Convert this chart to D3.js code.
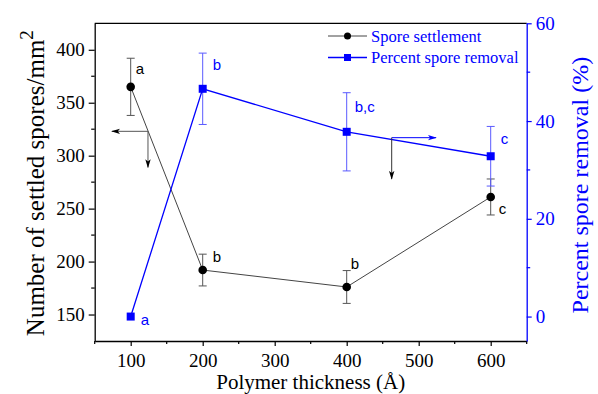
<!DOCTYPE html>
<html>
<head>
<meta charset="utf-8">
<script src="https://cdn.jsdelivr.net/npm/d3@7"></script>
<style>
  html, body { margin: 0; padding: 0; background: #fff; }
  svg { display: block; }
  .serif { font-family: "Liberation Serif", "Times New Roman", serif; }
  .sans { font-family: "Liberation Sans", Arial, sans-serif; }
</style>
</head>
<body>
<svg id="chart" width="598" height="394"></svg>
<script>
// Polymer thickness (Å)
const thickness = [100, 200, 400, 600];

// Spore settlement (spores/mm²) with error
const settlement = [365, 192, 176, 261];
const settlementErr = [27, 15, 15.5, 17];
const settlementLetters = ["a", "b", "b", "c"];

// Percent spore removal (%) with error
const removal = [0, 46.6, 37.8, 32.8];
const removalErr = [0, 7.3, 8, 6.1];
const removalLetters = ["a", "b", "b,c", "c"];

const xTicks = [100, 200, 300, 400, 500, 600];
const yLeftTicks = [150, 200, 250, 300, 350, 400];
const yRightTicks = [0, 20, 40, 60];

const legendLabels = ["Spore settlement", "Percent spore removal"];

const BLUE = "#0000ff";
const GRAY = "#444";

const svg = d3.select("#chart");
const L = 94.7, R = 526.7, T = 23.3, B = 341;

const x = d3.scaleLinear().domain([50, 650]).range([L, R]);
const yL = d3.scaleLinear().domain([125, 425]).range([B, T]);
const yR = d3.scaleLinear().domain([-5, 60]).range([B, T]);

// arrow heads
const defs = svg.append("defs");
function arrowMarker(id, color) {
  defs.append("marker")
    .attr("id", id).attr("viewBox", "0 0 10 10")
    .attr("refX", 9).attr("refY", 5)
    .attr("markerWidth", 9).attr("markerHeight", 9)
    .attr("markerUnits", "userSpaceOnUse")
    .attr("orient", "auto")
    .append("path").attr("d", "M0,2 L10,5 L0,8 L2.5,5 Z").attr("fill", color);
}
arrowMarker("ahBlack", "#000");
arrowMarker("ahBlue", BLUE);

// frame top line
svg.append("line").attr("x1", L).attr("x2", R).attr("y1", T).attr("y2", T)
  .attr("stroke", "#000").attr("stroke-width", 1.3);

function styleTicks(g, color) {
  g.attr("font-family", null).attr("font-size", null);
  g.selectAll("text").attr("class", "serif").style("font-size", "19px").attr("fill", color);
}

// bottom axis
const xAxis = d3.axisBottom(x).tickValues(xTicks).tickSize(5).tickSizeOuter(0).tickPadding(8);
const gx = svg.append("g").attr("transform", `translate(0,${B})`).call(xAxis);
gx.select(".domain").attr("stroke", "#000").attr("stroke-width", 1.3);
gx.selectAll(".tick line").attr("stroke", "#000").attr("stroke-width", 1.2);
styleTicks(gx, "#000");
gx.selectAll(".minor").data(d3.range(50, 651, 100)).enter().append("line")
  .attr("x1", d => x(d)).attr("x2", d => x(d)).attr("y1", 0).attr("y2", 3)
  .attr("stroke", "#000").attr("stroke-width", 1.2);

// left axis
const yLAxis = d3.axisLeft(yL).tickValues(yLeftTicks).tickSize(6).tickSizeOuter(0).tickPadding(4);
const gyl = svg.append("g").attr("transform", `translate(${L},0)`).call(yLAxis);
gyl.select(".domain").attr("stroke", "#000").attr("stroke-width", 1.3);
gyl.selectAll(".tick line").attr("stroke", "#000").attr("stroke-width", 1.2);
styleTicks(gyl, "#000");
gyl.selectAll(".minor").data(d3.range(175, 425, 50)).enter().append("line")
  .attr("x1", 0).attr("x2", -3.5).attr("y1", d => yL(d)).attr("y2", d => yL(d))
  .attr("stroke", "#000").attr("stroke-width", 1.2);

// right axis
const yRAxis = d3.axisRight(yR).tickValues(yRightTicks).tickSize(5).tickSizeOuter(0).tickPadding(4);
const gyr = svg.append("g").attr("transform", `translate(${R},0)`).call(yRAxis);
gyr.select(".domain").attr("stroke", BLUE).attr("stroke-width", 1.3);
gyr.selectAll(".tick line").attr("stroke", BLUE).attr("stroke-width", 1.2);
styleTicks(gyr, BLUE);
gyr.selectAll(".minor").data([10, 30, 50]).enter().append("line")
  .attr("x1", 0).attr("x2", 3.5).attr("y1", d => yR(d)).attr("y2", d => yR(d))
  .attr("stroke", BLUE).attr("stroke-width", 1.2);

// axis titles
svg.append("text").attr("class", "serif").attr("x", x(350)).attr("y", 389).attr("text-anchor", "middle")
  .style("font-size", "21px").attr("fill", "#000")
  .text("Polymer thickness (Å)");

const lt = svg.append("text").attr("class", "serif")
  .attr("transform", `translate(44,${(T + B) / 2 + 1}) rotate(-90)`)
  .attr("text-anchor", "middle").style("font-size", "25px").attr("fill", "#000");
lt.append("tspan").text("Number of settled spores/mm");
lt.append("tspan").attr("dy", -11).style("font-size", "19px").text("2");

svg.append("text").attr("class", "serif")
  .attr("transform", `translate(588,${(T + B) / 2 + 3}) rotate(-90)`)
  .attr("text-anchor", "middle").style("font-size", "24px").attr("fill", BLUE)
  .text("Percent spore removal (%)");

// error bars
function errorBars(vals, errs, scale, color) {
  const g = svg.append("g").attr("stroke", color).attr("stroke-width", 1);
  thickness.forEach((t, i) => {
    if (!errs[i]) return;
    const cx = x(t), y1 = scale(vals[i] - errs[i]), y2 = scale(vals[i] + errs[i]);
    g.append("line").attr("x1", cx).attr("x2", cx).attr("y1", y1).attr("y2", y2);
    g.append("line").attr("x1", cx - 4).attr("x2", cx + 4).attr("y1", y1).attr("y2", y1);
    g.append("line").attr("x1", cx - 4).attr("x2", cx + 4).attr("y1", y2).attr("y2", y2);
  });
}
errorBars(settlement, settlementErr, yL, "#555");
errorBars(removal, removalErr, yR, "#5a5aff");

// lines
svg.append("path").datum(thickness.map((t, i) => [t, settlement[i]]))
  .attr("d", d3.line().x(d => x(d[0])).y(d => yL(d[1])))
  .attr("fill", "none").attr("stroke", GRAY).attr("stroke-width", 1);
svg.append("path").datum(thickness.map((t, i) => [t, removal[i]]))
  .attr("d", d3.line().x(d => x(d[0])).y(d => yR(d[1])))
  .attr("fill", "none").attr("stroke", BLUE).attr("stroke-width", 1.3);

// markers
svg.selectAll(".dot").data(thickness).enter().append("circle")
  .attr("cx", d => x(d)).attr("cy", (d, i) => yL(settlement[i])).attr("r", 4.3).attr("fill", "#000");
svg.selectAll(".sq").data(thickness).enter().append("rect")
  .attr("x", d => x(d) - 4).attr("y", (d, i) => yR(removal[i]) - 4)
  .attr("width", 8).attr("height", 8).attr("fill", BLUE);

// significance letters
const letterOffsetsS = [[5, -13], [10, -8], [4, -18], [8, 17]];
thickness.forEach((t, i) => {
  svg.append("text").attr("class", "sans").attr("x", x(t) + letterOffsetsS[i][0]).attr("y", yL(settlement[i]) + letterOffsetsS[i][1])
    .style("font-size", "15px").attr("fill", "#000").text(settlementLetters[i]);
});
const letterOffsetsR = [[10, 8], [10, -19], [8, -20], [10, -12]];
thickness.forEach((t, i) => {
  svg.append("text").attr("class", "sans").attr("x", x(t) + letterOffsetsR[i][0]).attr("y", yR(removal[i]) + letterOffsetsR[i][1])
    .style("font-size", "15px").attr("fill", BLUE).text(removalLetters[i]);
});

// series-to-axis arrows
svg.append("line").attr("x1", x(124)).attr("x2", x(74)).attr("y1", yL(323)).attr("y2", yL(323))
  .attr("stroke", "#555").attr("stroke-width", 1).attr("marker-end", "url(#ahBlack)");
svg.append("line").attr("x1", x(124)).attr("x2", x(124)).attr("y1", yL(323)).attr("y2", yL(289))
  .attr("stroke", "#555").attr("stroke-width", 1).attr("marker-end", "url(#ahBlack)");
svg.append("line").attr("x1", x(462.5)).attr("x2", x(524)).attr("y1", yR(36.6)).attr("y2", yR(36.6))
  .attr("stroke", BLUE).attr("stroke-width", 1).attr("marker-end", "url(#ahBlue)");
svg.append("line").attr("x1", x(462.5)).attr("x2", x(462.5)).attr("y1", yR(36.6)).attr("y2", yL(278))
  .attr("stroke", "#333").attr("stroke-width", 1).attr("marker-end", "url(#ahBlack)");

// legend
const leg = svg.append("g").attr("transform", "translate(328,36)");
[0, 1].forEach(i => {
  const row = leg.append("g").attr("transform", `translate(0,${i * 21.5})`);
  row.append("line").attr("x1", 0).attr("x2", 39).attr("y1", 0).attr("y2", 0)
    .attr("stroke", i === 0 ? GRAY : BLUE).attr("stroke-width", i === 0 ? 1 : 1.3);
  if (i === 0) row.append("circle").attr("cx", 19.5).attr("cy", 0).attr("r", 3.5).attr("fill", "#000");
  else row.append("rect").attr("x", 16).attr("y", -3.5).attr("width", 7).attr("height", 7).attr("fill", BLUE);
  row.append("text").attr("class", "serif").attr("x", 43).attr("y", 5.5).style("font-size", "16.5px")
    .attr("fill", BLUE).text(legendLabels[i]);
});
</script>
</body>
</html>
